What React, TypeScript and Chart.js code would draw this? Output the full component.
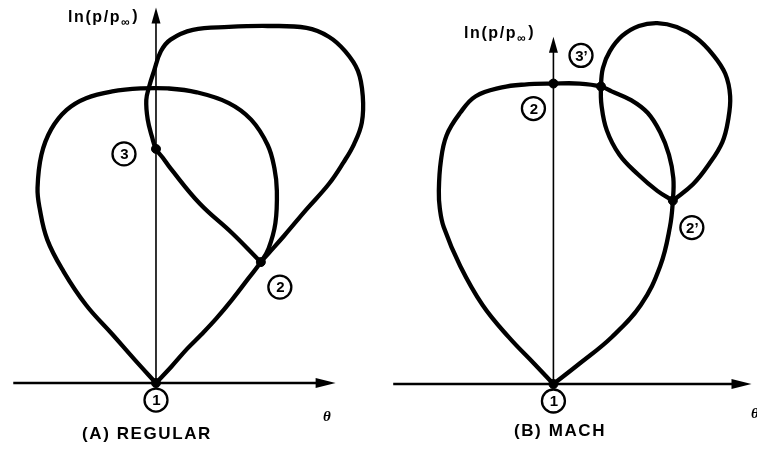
import React, { useEffect, useRef } from "react";
import { Chart, registerables } from "chart.js";

Chart.register(...registerables);

// Shock polars in the (θ, ln(p/p∞)) plane; θ in degrees.

// (A) Regular reflection: incident-shock polar through state 1
const regIncidentTheta = [0, -4.4, -9.0, -14.4, -19.0, -22.4, -24.0, -24.4, -23.6, -21.6, -18.4, -14.4, -9.0, -3.0, 2.4, 8.4, 15.0, 19.6, 23.0, 24.4, 24.9, 24.6, 23.2, 21.6, 19.0, 15.6, 12.4, 9.4, 6.4, 3.2, 0];
const regIncidentLnP = [0, 0.24, 0.5, 0.8, 1.14, 1.47, 1.8, 2.0, 2.34, 2.6, 2.8, 2.92, 2.99, 3.02, 3.02, 2.98, 2.87, 2.7, 2.44, 2.2, 1.97, 1.64, 1.38, 1.24, 1.07, 0.85, 0.66, 0.5, 0.35, 0.17, 0];
// reflected-shock polar through state 2
const regReflectedTheta = [21.6, 20.4, 15.6, 9.0, 3.0, 1.4, 0, -0.8, -1.7, -2.0, -1.4, -0.4, 1.0, 3.0, 7.6, 15.0, 23.0, 31.0, 35.6, 39.0, 41.6, 42.6, 42.4, 40.8, 38.6, 35.6, 31.0, 26.4, 23.2, 21.6];
const regReflectedLnP = [1.24, 1.3, 1.54, 1.84, 2.2, 2.31, 2.4, 2.52, 2.7, 2.9, 3.04, 3.2, 3.4, 3.52, 3.62, 3.65, 3.66, 3.64, 3.55, 3.4, 3.2, 2.94, 2.67, 2.45, 2.26, 2.04, 1.78, 1.51, 1.33, 1.24];
const regStateNames = ["1", "2", "3"];
const regStateTheta = [0, 21.6, 0];
const regStateLnP = [0, 1.24, 2.4];

// (B) Mach reflection
const machIncidentTheta = [0, -4.0, -9.2, -14.6, -19.2, -22.6, -23.4, -23.6, -23.2, -22.0, -19.2, -16.0, -10.6, -6.0, 0, 5.4, 9.8, 12.0, 16.0, 19.4, 22.0, 23.8, 24.7, 24.6, 24.0, 22.0, 18.0, 12.0, 5.4, 0];
const machIncidentLnP = [0, 0.21, 0.48, 0.81, 1.21, 1.61, 1.8, 1.98, 2.28, 2.55, 2.78, 2.95, 3.04, 3.07, 3.08, 3.08, 3.05, 3.0, 2.91, 2.78, 2.58, 2.35, 2.11, 1.88, 1.61, 1.21, 0.81, 0.48, 0.21, 0];
const machReflectedTheta = [24.6, 21.4, 17.4, 13.6, 11.0, 9.9, 9.8, 10.2, 11.6, 14.2, 17.6, 21.4, 25.4, 29.4, 32.8, 35.4, 36.4, 36.0, 34.8, 32.0, 28.8, 24.6];
const machReflectedLnP = [1.88, 1.98, 2.15, 2.35, 2.6, 2.86, 3.05, 3.24, 3.41, 3.57, 3.67, 3.7, 3.66, 3.55, 3.38, 3.18, 2.95, 2.71, 2.48, 2.25, 2.05, 1.88];
const machStateNames = ["1", "2", "3\u2019", "2\u2019"];
const machStateTheta = [0, 0, 9.8, 24.6];
const machStateLnP = [0, 3.08, 3.05, 1.88];

const INK = "#000";
const SANS = '"Liberation Sans", Arial, sans-serif';

type Pt = { x: number; y: number };
const zip = (xs: number[], ys: number[]): Pt[] => xs.map((x, i) => ({ x, y: ys[i] }));

type PanelDef = {
  title: string;
  width: number;
  xRange: [number, number];
  yRange: [number, number];
  thetaAxis: [number, number];
  lnpTop: number;
  curves: Pt[][];
  states: Pt[];
  stateNames: string[];
  // pixel offsets of the circled state tags from their points
  tagOffsets: [number, number][];
  yLabelAt: [number, number];
  thetaLabelAt: [number, number];
  titleAt: [number, number];
};

const panels: PanelDef[] = [
  {
    title: "(A) REGULAR",
    width: 378,
    xRange: [-31, 44.6],
    yRange: [-0.63, 3.87],
    thetaAxis: [-29.4, 37],
    lnpTop: 3.85,
    curves: [zip(regIncidentTheta, regIncidentLnP), zip(regReflectedTheta, regReflectedLnP)],
    states: zip(regStateTheta, regStateLnP),
    stateNames: regStateNames,
    tagOffsets: [[0, 17], [19, 25], [-32, 5]],
    yLabelAt: [68, 18],
    thetaLabelAt: [327, 417],
    titleAt: [147, 434],
  },
  {
    title: "(B) MACH",
    width: 379,
    xRange: [-35, 40.8],
    yRange: [-0.62, 3.88],
    thetaAxis: [-33, 40.8],
    lnpTop: 3.56,
    curves: [zip(machIncidentTheta, machIncidentLnP), zip(machReflectedTheta, machReflectedLnP)],
    states: zip(machStateTheta, machStateLnP),
    stateNames: machStateNames,
    tagOffsets: [[0, 17], [-20, 25], [-20, -31], [19, 27]],
    yLabelAt: [86, 34],
    thetaLabelAt: [377, 414],
    titleAt: [182, 431],
  },
];

function decorPlugin(p: PanelDef) {
  return {
    id: "polarDecor",
    beforeDatasetsDraw(chart: any) {
      const { ctx, scales } = chart;
      const xs = scales.x;
      const ys = scales.y;
      const x0 = xs.getPixelForValue(0);
      const y0 = ys.getPixelForValue(0);
      const xa = xs.getPixelForValue(p.thetaAxis[0]);
      const xb = xs.getPixelForValue(p.thetaAxis[1]);
      const yt = ys.getPixelForValue(p.lnpTop);
      ctx.save();
      ctx.strokeStyle = INK;
      ctx.fillStyle = INK;
      // θ axis with arrow
      ctx.lineWidth = 2.4;
      ctx.beginPath();
      ctx.moveTo(xa, y0);
      ctx.lineTo(xb - 14, y0);
      ctx.stroke();
      ctx.beginPath();
      ctx.moveTo(xb, y0);
      ctx.lineTo(xb - 20, y0 - 5);
      ctx.lineTo(xb - 20, y0 + 5);
      ctx.closePath();
      ctx.fill();
      // ln(p/p∞) axis with arrow
      ctx.lineWidth = 1.6;
      ctx.beginPath();
      ctx.moveTo(x0, y0);
      ctx.lineTo(x0, yt + 12);
      ctx.stroke();
      ctx.beginPath();
      ctx.moveTo(x0, yt);
      ctx.lineTo(x0 - 4.5, yt + 16);
      ctx.lineTo(x0 + 4.5, yt + 16);
      ctx.closePath();
      ctx.fill();
      ctx.restore();
    },
    afterDraw(chart: any) {
      const { ctx, scales } = chart;
      const xs = scales.x;
      const ys = scales.y;
      ctx.save();
      ctx.fillStyle = INK;
      ctx.strokeStyle = INK;

      // circled state tags
      p.states.forEach((s, i) => {
        const cx = xs.getPixelForValue(s.x) + p.tagOffsets[i][0];
        const cy = ys.getPixelForValue(s.y) + p.tagOffsets[i][1];
        ctx.lineWidth = 2.3;
        ctx.beginPath();
        ctx.arc(cx, cy, 11.5, 0, Math.PI * 2);
        ctx.stroke();
        ctx.font = `bold 15px ${SANS}`;
        ctx.textAlign = "center";
        ctx.textBaseline = "middle";
        ctx.fillText(p.stateNames[i], cx + 0.5, cy + 1);
      });

      // vertical axis title: ln(p/p∞)
      ctx.textAlign = "left";
      ctx.textBaseline = "middle";
      (ctx as any).letterSpacing = "1.6px";
      let [lx, ly] = p.yLabelAt;
      ctx.font = `bold 16px ${SANS}`;
      const head = "ln(p/p";
      ctx.fillText(head, lx, ly);
      lx += ctx.measureText(head).width;
      ctx.font = `bold 12px ${SANS}`;
      ctx.fillText("\u221E", lx, ly + 5);
      lx += ctx.measureText("\u221E").width + 1;
      ctx.font = `bold 16px ${SANS}`;
      ctx.fillText(")", lx, ly - 1);

      // θ label
      (ctx as any).letterSpacing = "0px";
      ctx.font = `italic bold 15px "Liberation Serif", serif`;
      ctx.textAlign = "center";
      ctx.fillText("\u03B8", p.thetaLabelAt[0], p.thetaLabelAt[1]);

      // panel caption
      (ctx as any).letterSpacing = "1.6px";
      ctx.font = `bold 17px ${SANS}`;
      ctx.fillText(p.title, p.titleAt[0], p.titleAt[1]);
      ctx.restore();
    },
  };
}

function PolarPanel({ p }: { p: PanelDef }) {
  const ref = useRef<HTMLCanvasElement | null>(null);
  useEffect(() => {
    if (!ref.current) return;
    const line = {
      showLine: true,
      borderColor: INK,
      borderWidth: 4.3,
      pointRadius: 0,
      tension: 0.4,
      clip: false as any,
      borderCapStyle: "round" as const,
      borderJoinStyle: "round" as const,
    };
    const chart = new Chart(ref.current, {
      type: "scatter",
      data: {
        datasets: [
          ...p.curves.map((c) => ({ ...line, data: c })),
          {
            data: p.states,
            showLine: false,
            pointRadius: 4.5,
            pointBackgroundColor: INK,
            pointBorderColor: INK,
            clip: false as any,
          },
        ],
      },
      options: {
        animation: false,
        responsive: false,
        devicePixelRatio: 1,
        layout: { padding: 0 },
        events: [],
        plugins: { legend: { display: false }, tooltip: { enabled: false } },
        scales: {
          x: { type: "linear", display: false, min: p.xRange[0], max: p.xRange[1] },
          y: { type: "linear", display: false, min: p.yRange[0], max: p.yRange[1] },
        },
      },
      plugins: [decorPlugin(p)],
    });
    return () => chart.destroy();
  }, [p]);
  return <canvas ref={ref} width={p.width} height={450} style={{ display: "block" }} />;
}

export default function App() {
  return (
    <div style={{ position: "absolute", left: 0, top: 0, width: 757, height: 450, display: "flex", background: "#fff" }}>
      {panels.map((p) => (
        <PolarPanel key={p.title} p={p} />
      ))}
    </div>
  );
}
